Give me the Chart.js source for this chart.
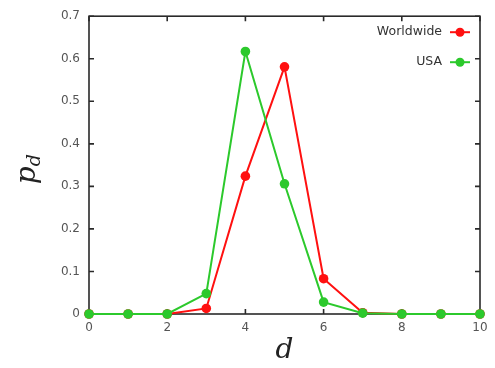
<!DOCTYPE html>
<html>
<head>
<meta charset="utf-8">
<script src="https://cdn.jsdelivr.net/npm/chart.js@4.4.1/dist/chart.umd.min.js"></script>
<style>
html,body{margin:0;padding:0;background:#fff;}
#wrap{width:495px;height:368px;position:relative;}
</style>
</head>
<body>
<div id="wrap"><canvas id="c" width="495" height="368"></canvas></div>
<script>
const dValues = [0, 1, 2, 3, 4, 5, 6, 7, 8, 9, 10];
const worldwide = [0, 0, 0, 0.013, 0.324, 0.581, 0.083, 0.003, 0, 0, 0];
const usa = [0, 0, 0, 0.048, 0.617, 0.306, 0.028, 0.002, 0, 0, 0];
const xTicks = [0, 2, 4, 6, 8, 10];
const yTicks = [0, 0.1, 0.2, 0.3, 0.4, 0.5, 0.6, 0.7];
const seriesLabels = ['Worldwide', 'USA'];

const RED = '#ff1010';
const GREEN = '#2cc92c';
const AXIS = '#2a2a2a';

const toPts = (vals) => dValues.map((d, i) => ({x: d, y: vals[i]}));

const frameTicks = {
  id: 'frameTicks',
  beforeDatasetsDraw(chart) {
    const {ctx, chartArea: a, scales: {x, y}} = chart;
    ctx.save();
    ctx.strokeStyle = AXIS;
    ctx.lineWidth = 1.6;
    ctx.strokeRect(a.left, a.top, a.right - a.left, a.bottom - a.top);
    const L = 5;
    ctx.beginPath();
    yTicks.forEach(v => {
      const py = y.getPixelForValue(v);
      ctx.moveTo(a.left, py); ctx.lineTo(a.left + L, py);
      ctx.moveTo(a.right, py); ctx.lineTo(a.right - L, py);
    });
    xTicks.forEach(v => {
      const px = x.getPixelForValue(v);
      ctx.moveTo(px, a.bottom); ctx.lineTo(px, a.bottom - L);
      ctx.moveTo(px, a.top); ctx.lineTo(px, a.top + L);
    });
    ctx.stroke();
    ctx.restore();
  }
};

const customLegend = {
  id: 'customLegend',
  afterDraw(chart) {
    const {ctx, chartArea: a} = chart;
    ctx.save();
    ctx.font = '12.5px "DejaVu Sans", sans-serif';
    ctx.textAlign = 'right';
    ctx.textBaseline = 'middle';
    chart.data.datasets.forEach((ds, i) => {
      const yy = a.top + 16 + i * 30;
      const xr = a.right - 38;
      ctx.fillStyle = '#333';
      ctx.fillText(ds.label, xr, yy);
      ctx.strokeStyle = ds.borderColor;
      ctx.lineWidth = 2;
      ctx.beginPath();
      ctx.moveTo(xr + 8, yy); ctx.lineTo(xr + 28, yy);
      ctx.stroke();
      ctx.fillStyle = ds.borderColor;
      ctx.beginPath();
      ctx.arc(xr + 18, yy, 4.5, 0, Math.PI * 2);
      ctx.fill();
    });
    ctx.restore();
  }
};

const yTitle = {
  id: 'yTitle',
  afterDraw(chart) {
    const {ctx, chartArea: a} = chart;
    ctx.save();
    ctx.translate(35, (a.top + a.bottom) / 2 + 4);
    ctx.rotate(-Math.PI / 2);
    ctx.fillStyle = '#222';
    ctx.textBaseline = 'alphabetic';
    ctx.textAlign = 'left';
    ctx.font = 'italic 28px "DejaVu Serif", "Liberation Serif", serif';
    const pw = ctx.measureText('p').width;
    ctx.font = 'italic 19px "DejaVu Serif", "Liberation Serif", serif';
    const dw = ctx.measureText('d').width;
    const total = pw + dw;
    ctx.font = 'italic 28px "DejaVu Serif", "Liberation Serif", serif';
    ctx.fillText('p', -total / 2, 0);
    ctx.font = 'italic 19px "DejaVu Serif", "Liberation Serif", serif';
    ctx.fillText('d', -total / 2 + pw, 5);
    ctx.restore();
  }
};

new Chart(document.getElementById('c'), {
  type: 'line',
  data: {
    datasets: [
      {label: seriesLabels[0], data: toPts(worldwide), borderColor: RED, backgroundColor: RED,
       borderWidth: 2, pointRadius: 4.8, pointHoverRadius: 4.8, pointBorderWidth: 0, clip: false, order: 1, tension: 0},
      {label: seriesLabels[1], data: toPts(usa), borderColor: GREEN, backgroundColor: GREEN,
       borderWidth: 2, pointRadius: 4.8, pointHoverRadius: 4.8, pointBorderWidth: 0, clip: false, order: 0, tension: 0}
    ]
  },
  options: {
    responsive: false,
    animation: false,
    devicePixelRatio: 1,
    layout: {padding: {left: 0, right: 15, top: 10, bottom: 0}},
    plugins: {legend: {display: false}, tooltip: {enabled: false}},
    scales: {
      x: {
        type: 'linear', min: 0, max: 10,
        afterBuildTicks(s) { s.ticks = xTicks.map(v => ({value: v})); },
        afterFit(s) { s.height = 54; },
        grid: {display: false, drawTicks: false},
        border: {display: false},
        ticks: {color: '#555', font: {family: '"DejaVu Sans", sans-serif', size: 12}, padding: 7, maxRotation: 0, callback: v => String(v)},
        title: {display: true, text: 'd', color: '#222', font: {family: '"DejaVu Serif", "Liberation Serif", serif', size: 28, style: 'italic'}, padding: {top: 0, bottom: 0}}
      },
      y: {
        type: 'linear', min: 0, max: 0.7,
        afterBuildTicks(s) { s.ticks = yTicks.map(v => ({value: v})); },
        afterFit(s) { s.width = 89; },
        grid: {display: false, drawTicks: false},
        border: {display: false},
        ticks: {color: '#555', font: {family: '"DejaVu Sans", sans-serif', size: 12}, padding: 9, callback: v => String(Math.round(v * 10) / 10)}
      }
    }
  },
  plugins: [frameTicks, customLegend, yTitle]
});
</script>
</body>
</html>
